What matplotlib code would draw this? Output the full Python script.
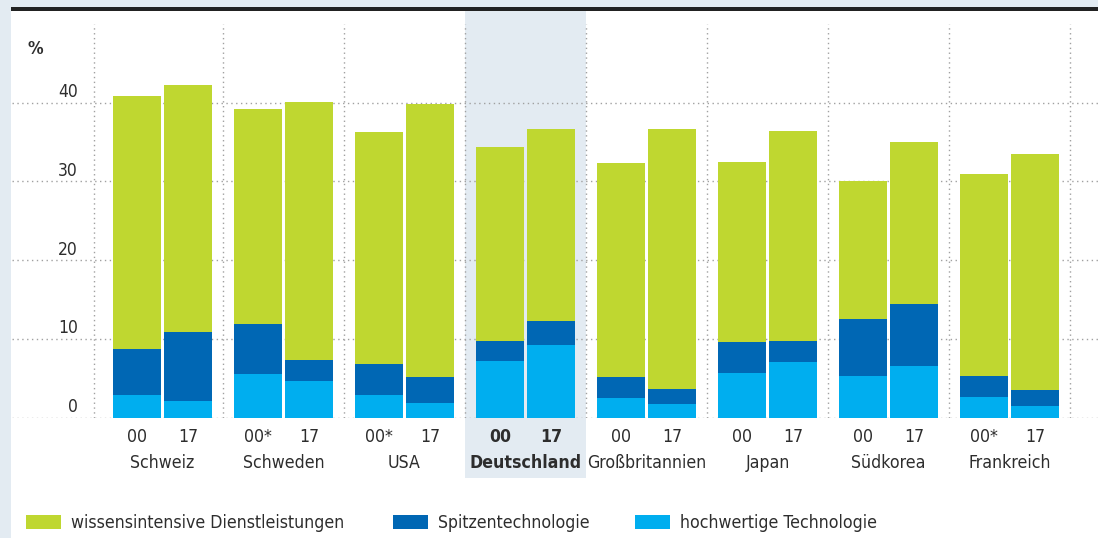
import matplotlib
matplotlib.use("Agg")
import matplotlib.pyplot as plt
import matplotlib.transforms as mtransforms
from matplotlib import font_manager as fm
from matplotlib.patches import Rectangle
import numpy as np

# ---- font choice: prefer a narrow / condensed face ----
def _find(family, **kw):
    try:
        return fm.findfont(fm.FontProperties(family=family, **kw),
                           fallback_to_default=False)
    except Exception:
        return ""

FS = 1.0
p = _find("Liberation Sans Narrow")
if "Narrow" in p:
    plt.rcParams['font.family'] = ['Liberation Sans Narrow', 'DejaVu Sans']
    FS = 1.05
else:
    p = _find("DejaVu Sans", stretch="condensed")
    plt.rcParams['font.family'] = ['DejaVu Sans']
    if "Condensed" in p:
        plt.rcParams['font.stretch'] = 'condensed'
        FS = 1.0
    else:
        FS = 0.9

# ---- data ----
countries = ["Schweiz", "Schweden", "USA", "Deutschland", "Großbritannien",
             "Japan", "Südkorea", "Frankreich"]
year_labels_a = ["00", "00*", "00*", "00", "00", "00", "00", "00*"]
year_labels_b = ["17", "17", "17", "17", "17", "17", "17", "17"]
series_names = ["wissensintensive Dienstleistungen", "Spitzentechnologie",
                "hochwertige Technologie"]

# year 2000 values (%)
hoch_00 = [2.8, 5.5, 2.8, 7.2, 2.5, 5.6, 5.3, 2.6]
spitz_00 = [5.9, 6.4, 4.0, 2.5, 2.6, 4.0, 7.2, 2.7]
wiss_00 = [32.1, 27.3, 29.5, 24.7, 27.2, 22.9, 17.5, 25.6]
# year 2017 values (%)
hoch_17 = [2.1, 4.7, 1.9, 9.2, 1.7, 7.0, 6.5, 1.5]
spitz_17 = [8.8, 2.6, 3.2, 3.0, 1.9, 2.7, 7.9, 2.0]
wiss_17 = [31.4, 32.8, 34.7, 24.5, 33.1, 26.7, 20.6, 30.0]

y_ticks = [0, 10, 20, 30, 40]
highlight = "Deutschland"

# ---- styles ----
C_WISS = "#bfd730"
C_SPITZ = "#0067b4"
C_HOCH = "#00aeef"
C_BAND = "#e3ebf2"
C_TEXT = "#2d2d2d"
C_GRID = "#a0a0a0"

W, H = 1098, 538
fig = plt.figure(figsize=(W / 100, H / 100), dpi=100, facecolor="white")

ax_left, ax_right = 12, 1098
y0_px, y50_px = 417.5, 24
ax = fig.add_axes([ax_left / W, (H - y0_px) / H, (ax_right - ax_left) / W,
                   (y0_px - y50_px) / H])
ax.patch.set_visible(False)
for s in ax.spines.values():
    s.set_visible(False)

ax.set_ylim(0, 50)
ax.set_xlim(-1.2438, 7.7314)
ax.set_xticks([])
ax.set_yticks([])

g = np.arange(len(countries))
off, bw = 0.21, 0.393

# highlight band
hi = countries.index(highlight)
ax.axvspan(hi - 0.5, hi + 0.5, ymin=(y0_px - 478) / (y0_px - y50_px),
           ymax=(y0_px - 10) / (y0_px - y50_px), color=C_BAND, lw=0,
           clip_on=False, zorder=0)

# grid
dot = (0, (1, 2.5))
ax.hlines(y_ticks, -1.2438, 7.7314, colors=C_GRID, linestyles=dot, lw=1,
          zorder=1)
vx = [-0.566] + list(g[1:] - 0.5) + [g[-1] + 0.5]
ax.vlines(vx, 0, 50, colors=C_GRID, linestyles=dot, lw=1, zorder=1)

# bars
for xs, h, s, w in [(g - off, hoch_00, spitz_00, wiss_00),
                    (g + off, hoch_17, spitz_17, wiss_17)]:
    h = np.array(h); s = np.array(s); w = np.array(w)
    b3 = ax.bar(xs, w, bw, bottom=h + s, color=C_WISS, lw=0, zorder=2)
    b2 = ax.bar(xs, s, bw, bottom=h, color=C_SPITZ, lw=0, zorder=2)
    b1 = ax.bar(xs, h, bw, color=C_HOCH, lw=0, zorder=2)
handles = [b3, b2, b1]

# y labels
tr_y = mtransforms.blended_transform_factory(ax.transAxes, ax.transData)
for t in y_ticks:
    ax.text((78 - ax_left) / (ax_right - ax_left), t + 0.2, f"{t}",
            transform=tr_y, ha="right", va="bottom", fontsize=12.5 * FS,
            color=C_TEXT)
fig.text(27 / W, 1 - 49 / H, "%", fontsize=12.5 * FS, fontweight="bold",
         color=C_TEXT, ha="left", va="center")

# x labels
tr_x = mtransforms.blended_transform_factory(ax.transData, ax.transAxes)
ya = (y0_px - 437) / (y0_px - y50_px)
yc = (y0_px - 463) / (y0_px - y50_px)
for i, c in enumerate(countries):
    fw = "bold" if c == highlight else "normal"
    ax.text(g[i] - off, ya, year_labels_a[i], transform=tr_x, ha="center",
            va="center", fontsize=12.7 * FS, color=C_TEXT, fontweight=fw)
    ax.text(g[i] + off, ya, year_labels_b[i], transform=tr_x, ha="center",
            va="center", fontsize=12.7 * FS, color=C_TEXT, fontweight=fw)
    ax.text(g[i], yc, c, transform=tr_x, ha="center", va="center",
            fontsize=12.7 * FS, color=C_TEXT, fontweight=fw)

# legend (three separate entries at fixed positions)
lfs = 12.7 * FS
lpx = lfs * 100 / 72
leg_x = [26, 393, 635]
for hnd, name, lx in zip(handles, series_names, leg_x):
    fig.legend([hnd], [name], loc="center left",
               bbox_to_anchor=(lx / W, 15 / H), frameon=False,
               borderpad=0, borderaxespad=0, fontsize=lfs,
               handlelength=35 / lpx, handleheight=16 / lpx,
               handletextpad=10 / lpx, labelcolor=C_TEXT)

# frame decorations
fig.patches.append(Rectangle((0, 0), 11 / W, 1, transform=fig.transFigure,
                             color=C_BAND, lw=0, zorder=5))
fig.patches.append(Rectangle((0, 1 - 7 / H), 1, 7 / H,
                             transform=fig.transFigure, color=C_BAND, lw=0,
                             zorder=5))
fig.patches.append(Rectangle((11 / W, 1 - 11 / H), 1 - 11 / W, 4 / H,
                             transform=fig.transFigure, color="#222222",
                             lw=0, zorder=6))

fig.savefig("out.png", dpi=100, facecolor="white")
